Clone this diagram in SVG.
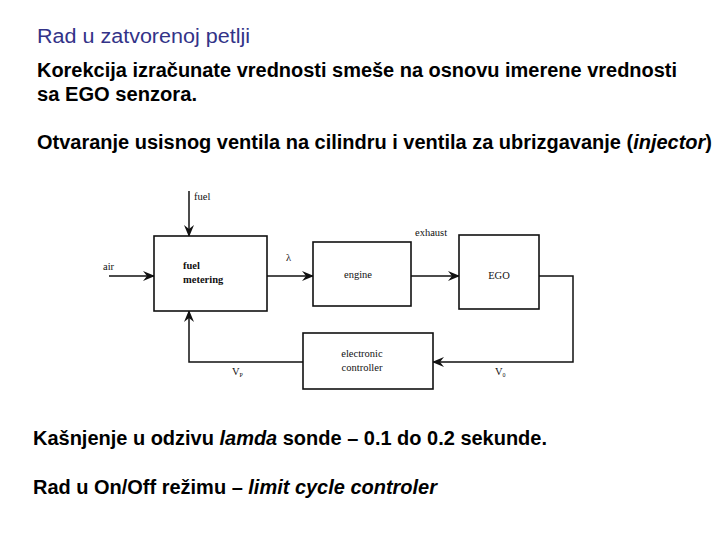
<svg xmlns="http://www.w3.org/2000/svg" width="720" height="540" viewBox="0 0 720 540">
<defs>
<style>
.t{font-family:"Liberation Sans",Arial,sans-serif;font-size:20px;font-weight:bold;fill:#000}
.title{font-family:"Liberation Sans",Arial,sans-serif;font-size:19.5px;fill:#333388}
.lbl{font-family:"Liberation Serif","Times New Roman",serif;font-size:10.5px;fill:#111}
.box{fill:#fff;stroke:#111;stroke-width:1.6}
.ln{fill:none;stroke:#111;stroke-width:1.5}
</style>
<marker id="ah" viewBox="0 0 12 10" refX="11" refY="5" markerWidth="12" markerHeight="10" markerUnits="userSpaceOnUse" orient="auto">
<path d="M0,0 L12,5 L0,10 L4,5 z" fill="#111"/>
</marker>
</defs>
<rect width="720" height="540" fill="#fff"/>
<text class="title" x="37" y="43" textLength="213" lengthAdjust="spacingAndGlyphs">Rad u zatvorenoj petlji</text>
<text class="t" x="37" y="77" textLength="640" lengthAdjust="spacingAndGlyphs">Korekcija izračunate vrednosti smeše na osnovu imerene vrednosti</text>
<text class="t" x="37" y="101" textLength="160" lengthAdjust="spacingAndGlyphs">sa EGO senzora.</text>
<text class="t" x="37" y="149" textLength="675" lengthAdjust="spacingAndGlyphs">Otvaranje usisnog ventila na cilindru i ventila za ubrizgavanje (<tspan font-style="italic">injector</tspan>)</text>
<text class="t" x="33" y="445" textLength="514" lengthAdjust="spacingAndGlyphs">Kašnjenje u odzivu <tspan font-style="italic">lamda</tspan> sonde – 0.1 do 0.2 sekunde.</text>
<text class="t" x="33" y="494" textLength="404" lengthAdjust="spacingAndGlyphs">Rad u On/Off režimu – <tspan font-style="italic">limit cycle controler</tspan></text>

<g id="connectors">
<path class="ln" d="M189,191 V236" marker-end="url(#ah)"/>
<path class="ln" d="M109,276 H154" marker-end="url(#ah)"/>
<path class="ln" d="M267,276 H313" marker-end="url(#ah)"/>
<path class="ln" d="M411,276 H459" marker-end="url(#ah)"/>
<path class="ln" d="M539,276 H573 V362 H433" marker-end="url(#ah)"/>
<path class="ln" d="M303,362 H189 V311" marker-end="url(#ah)"/>
<text class="lbl" x="194" y="200">fuel</text>
<text class="lbl" x="103" y="270">air</text>
<text class="lbl" x="286" y="261">λ</text>
<text class="lbl" x="415" y="236">exhaust</text>
<text class="lbl" x="232" y="375">V<tspan font-size="6" dy="2">P</tspan></text>
<text class="lbl" x="495" y="375">V<tspan font-size="6" dy="2">0</tspan></text>
</g>

<g id="fuel-metering">
<rect class="box" x="154" y="236" width="113" height="75"/>
<text class="lbl" x="183" y="269" font-weight="bold">fuel</text>
<text class="lbl" x="183" y="283" font-weight="bold">metering</text>
</g>
<g id="engine">
<rect class="box" x="313" y="242" width="98" height="64"/>
<text class="lbl" x="358" y="278" text-anchor="middle">engine</text>
</g>
<g id="ego">
<rect class="box" x="459" y="235" width="80" height="74"/>
<text class="lbl" x="499" y="279" text-anchor="middle">EGO</text>
</g>
<g id="controller">
<rect class="box" x="303" y="333" width="130" height="56"/>
<text class="lbl" x="362" y="357" text-anchor="middle">electronic</text>
<text class="lbl" x="362" y="371" text-anchor="middle">controller</text>
</g>
</svg>
